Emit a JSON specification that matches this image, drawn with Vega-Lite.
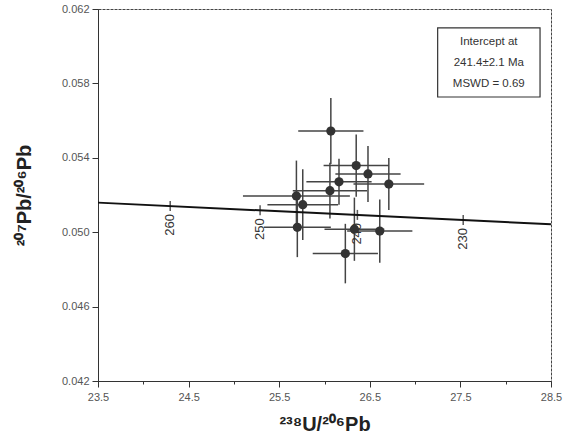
{
  "$schema": "https://vega.github.io/schema/vega-lite/v6.json",
  "autosize": "none",
  "width": 453,
  "height": 372,
  "padding": {"left": 98, "top": 9, "right": 17, "bottom": 59},
  "background": "#ffffff",
  "config": {
    "font": "Liberation Sans",
    "view": {"stroke": "#444", "strokeWidth": 1, "strokeDash": [3, 1]},
    "axis": {"grid": false, "domainColor": "#333", "tickColor": "#333", "labelColor": "#555", "labelFontSize": 11, "titleFont": "Liberation Sans", "titleFontWeight": "bold", "titleFontSize": 20, "titleColor": "#222"}
  },
  "datasets": {
    "pts": [
      {"x": 26.07, "y": 0.05544, "xlo": 25.71, "xhi": 26.43, "ylo": 0.05366, "yhi": 0.05722},
      {"x": 26.35, "y": 0.05358, "xlo": 25.99, "xhi": 26.71, "ylo": 0.05191, "yhi": 0.05525},
      {"x": 26.48, "y": 0.05313, "xlo": 26.12, "xhi": 26.84, "ylo": 0.05163, "yhi": 0.05463},
      {"x": 26.16, "y": 0.05271, "xlo": 25.80, "xhi": 26.52, "ylo": 0.05147, "yhi": 0.05395},
      {"x": 26.71, "y": 0.05259, "xlo": 26.32, "xhi": 27.10, "ylo": 0.05119, "yhi": 0.05399},
      {"x": 26.06, "y": 0.05223, "xlo": 25.65, "xhi": 26.47, "ylo": 0.05073, "yhi": 0.05373},
      {"x": 25.69, "y": 0.05195, "xlo": 25.10, "xhi": 26.28, "ylo": 0.05005, "yhi": 0.05385},
      {"x": 25.76, "y": 0.05148, "xlo": 25.37, "xhi": 26.15, "ylo": 0.04958, "yhi": 0.05338},
      {"x": 25.70, "y": 0.05026, "xlo": 25.33, "xhi": 26.07, "ylo": 0.04866, "yhi": 0.05186},
      {"x": 26.33, "y": 0.05016, "xlo": 26.00, "xhi": 26.66, "ylo": 0.04846, "yhi": 0.05186},
      {"x": 26.61, "y": 0.05006, "xlo": 26.25, "xhi": 26.97, "ylo": 0.04836, "yhi": 0.05176},
      {"x": 26.23, "y": 0.04885, "xlo": 25.87, "xhi": 26.59, "ylo": 0.04725, "yhi": 0.05045}
    ],
    "fit": [
      {"x": 23.5, "y": 0.05159},
      {"x": 28.5, "y": 0.05043}
    ],
    "ages": [
      {"age": "260", "x": 24.297, "y": 0.05141},
      {"age": "250", "x": 25.289, "y": 0.05118},
      {"age": "240", "x": 26.363, "y": 0.05093},
      {"age": "230", "x": 27.531, "y": 0.05065}
    ],
    "box": [
      {"x": 27.249, "x2": 28.379, "y": 0.06098, "y2": 0.05727}
    ],
    "note": [
      {"x": 27.813, "y": 0.06024, "t": "Intercept at"},
      {"x": 27.813, "y": 0.05910, "t": "241.4±2.1 Ma"},
      {"x": 27.813, "y": 0.05797, "t": "MSWD = 0.69"}
    ]
  },
  "layer": [
    {
      "data": {"name": "pts"},
      "mark": {"type": "rule", "color": "#444", "strokeWidth": 1.5},
      "encoding": {
        "x": {"field": "xlo", "type": "quantitative", "title": "²³⁸U/²⁰⁶Pb",
          "scale": {"domain": [23.5, 28.5], "nice": false, "zero": false},
          "axis": {"values": [23.5, 24, 24.5, 25, 25.5, 26, 26.5, 27, 27.5, 28, 28.5],
            "labelExpr": "datum.value % 1 == 0.5 ? format(datum.value, '.1f') : ''",
            "tickSize": {"condition": {"test": "datum.value % 1 == 0.5", "value": 6}, "value": 3},
            "labelPadding": 4, "titlePadding": 12, "labelFlush": false}},
        "x2": {"field": "xhi"},
        "y": {"field": "y", "type": "quantitative", "title": "²⁰⁷Pb/²⁰⁶Pb",
          "scale": {"domain": [0.042, 0.062], "nice": false, "zero": false},
          "axis": {"values": [0.042, 0.044, 0.046, 0.048, 0.05, 0.052, 0.054, 0.056, 0.058, 0.06, 0.062],
            "labelExpr": "abs((datum.value - 0.042) / 0.004 - round((datum.value - 0.042) / 0.004)) < 0.01 ? format(datum.value, '.3f') : ''",
            "tickSize": {"condition": {"test": "abs((datum.value - 0.042) / 0.004 - round((datum.value - 0.042) / 0.004)) < 0.01", "value": 6}, "value": 3},
            "labelPadding": 3, "titlePadding": 27}}
      }
    },
    {
      "data": {"name": "pts"},
      "mark": {"type": "rule", "color": "#444", "strokeWidth": 1.5},
      "encoding": {
        "x": {"field": "x", "type": "quantitative", "title": "²³⁸U/²⁰⁶Pb"},
        "y": {"field": "ylo", "type": "quantitative", "title": "²⁰⁷Pb/²⁰⁶Pb"},
        "y2": {"field": "yhi"}
      }
    },
    {
      "data": {"name": "fit"},
      "mark": {"type": "line", "color": "#111", "strokeWidth": 2},
      "encoding": {
        "x": {"field": "x", "type": "quantitative", "title": "²³⁸U/²⁰⁶Pb"},
        "y": {"field": "y", "type": "quantitative", "title": "²⁰⁷Pb/²⁰⁶Pb"}
      }
    },
    {
      "data": {"name": "pts"},
      "mark": {"type": "point", "filled": true, "shape": "circle", "size": 85, "color": "#333", "opacity": 1},
      "encoding": {
        "x": {"field": "x", "type": "quantitative", "title": "²³⁸U/²⁰⁶Pb"},
        "y": {"field": "y", "type": "quantitative", "title": "²⁰⁷Pb/²⁰⁶Pb"}
      }
    },
    {
      "data": {"name": "ages"},
      "mark": {"type": "tick", "orient": "vertical", "size": 10, "thickness": 1.5, "color": "#111"},
      "encoding": {
        "x": {"field": "x", "type": "quantitative", "title": "²³⁸U/²⁰⁶Pb"},
        "y": {"field": "y", "type": "quantitative", "title": "²⁰⁷Pb/²⁰⁶Pb"}
      }
    },
    {
      "data": {"name": "ages"},
      "mark": {"type": "text", "angle": 270, "align": "right", "baseline": "middle", "yOffset": 8, "fontSize": 13, "color": "#333"},
      "encoding": {
        "x": {"field": "x", "type": "quantitative", "title": "²³⁸U/²⁰⁶Pb"},
        "y": {"field": "y", "type": "quantitative", "title": "²⁰⁷Pb/²⁰⁶Pb"},
        "text": {"field": "age"}
      }
    },
    {
      "data": {"name": "box"},
      "mark": {"type": "rect", "fill": "#ffffff", "stroke": "#333", "strokeWidth": 1.2},
      "encoding": {
        "x": {"field": "x", "type": "quantitative", "title": "²³⁸U/²⁰⁶Pb"},
        "x2": {"field": "x2"},
        "y": {"field": "y", "type": "quantitative", "title": "²⁰⁷Pb/²⁰⁶Pb"},
        "y2": {"field": "y2"}
      }
    },
    {
      "data": {"name": "note"},
      "mark": {"type": "text", "align": "center", "baseline": "middle", "fontSize": 11.5, "color": "#333"},
      "encoding": {
        "x": {"field": "x", "type": "quantitative", "title": "²³⁸U/²⁰⁶Pb"},
        "y": {"field": "y", "type": "quantitative", "title": "²⁰⁷Pb/²⁰⁶Pb"},
        "text": {"field": "t"}
      }
    }
  ]
}
